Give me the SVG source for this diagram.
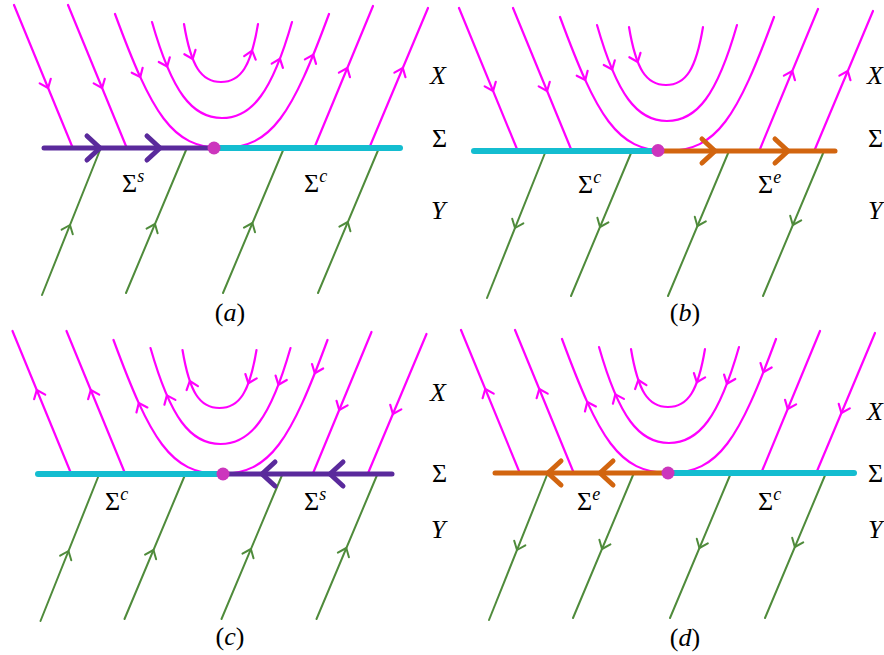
<svg xmlns="http://www.w3.org/2000/svg" width="884" height="655" viewBox="0 0 884 655">
<style>
.mag{fill:none;stroke:#ff00ff;stroke-width:2.2;stroke-linecap:round}
.mch{fill:none;stroke:#ff00ff;stroke-width:2.2;stroke-linecap:round;stroke-linejoin:round}
.grn{fill:none;stroke:#4f8b3b;stroke-width:2;stroke-linecap:round}
.gch{fill:none;stroke:#4f8b3b;stroke-width:2;stroke-linecap:round;stroke-linejoin:round}
.cy{fill:none;stroke:#14bdd0;stroke-width:6;stroke-linecap:round}
.pu{fill:none;stroke:#5a2a9c;stroke-width:5;stroke-linecap:round;stroke-linejoin:round}
.og{fill:none;stroke:#d2650f;stroke-width:5;stroke-linecap:round;stroke-linejoin:round}
.dot{fill:#cc35bd}
text{font-family:"Liberation Serif","Times New Roman",serif;fill:#000}
.lab{font-size:26px}
.sup{font-size:18px;font-style:italic}
.xy{font-size:26px;font-style:italic}
.it{font-style:italic}
.cap{font-size:26px}
</style>
<defs>
<path id="ch" d="M-7.5,-6 L0,0 L-7.5,6"/>
<path id="bch" d="M-13,-12 L0,0 L-13,12"/>
<g id="magCurves" class="mag">
<path d="M14,5 L72.8,148"/>
<path d="M68,5 L126.8,148"/>
<path d="M115,14 C152,114 172,148 222,148 C272,148 292,114 329,14"/>
<path d="M152,22 C172,92 192,118 222,118 C252,118 272,92 292,22"/>
<path d="M184,24 C191,66 201,82 221,82 C241,82 251,66 258,24"/>
<path d="M314.2,148 L373,6"/>
<path d="M369.2,148 L428,8"/>
</g>
<g id="grnLines" class="grn">
<path d="M42,295 L100.8,148"/>
<path d="M126,293 L186.9,148"/>
<path d="M223,293 L284,148"/>
<path d="M318,293 L379,148"/>
</g>
<g id="magArrLeftIn" class="mch">
<use href="#ch" transform="translate(48.1,88) rotate(67.6)"/>
<use href="#ch" transform="translate(102.1,88) rotate(67.6)"/>
<use href="#ch" transform="translate(140.3,77.1) rotate(65.5)"/>
<use href="#ch" transform="translate(167.2,66.5) rotate(67.2)"/>
<use href="#ch" transform="translate(192.7,59) rotate(68.3)"/>
</g>
<g id="magArrRightLinesOut" class="mch">
<use href="#ch" transform="translate(347.3,68) rotate(-67.5)"/>
<use href="#ch" transform="translate(402.8,68) rotate(-67.5)"/>
</g>
<g id="magArrRightCurvesOut" class="mch">
<use href="#ch" transform="translate(252.1,50.7) rotate(-73.2)"/>
<use href="#ch" transform="translate(280,58.8) rotate(-69)"/>
<use href="#ch" transform="translate(313.3,54.7) rotate(-67.8)"/>
</g>
<g id="magArrLeftOut" class="mch">
<use href="#ch" transform="translate(38.3,64) rotate(-112.4)"/>
<use href="#ch" transform="translate(92.3,64) rotate(-112.4)"/>
<use href="#ch" transform="translate(140.3,77.1) rotate(-114.5)"/>
<use href="#ch" transform="translate(168.4,69.4) rotate(-113.6)"/>
<use href="#ch" transform="translate(191.3,55) rotate(-109.1)"/>
</g>
<g id="magArrRightIn" class="mch">
<use href="#ch" transform="translate(249.9,57.3) rotate(110.6)"/>
<use href="#ch" transform="translate(280,58.8) rotate(111)"/>
<use href="#ch" transform="translate(316.3,47.2) rotate(111.7)"/>
<use href="#ch" transform="translate(340.7,84) rotate(112.5)"/>
<use href="#ch" transform="translate(394.4,88) rotate(112.5)"/>
</g>
<g id="grnArrUp" class="gch">
<use href="#ch" transform="translate(70,225) rotate(-68.2)"/>
<use href="#ch" transform="translate(155,224) rotate(-67.2)"/>
<use href="#ch" transform="translate(252.4,223) rotate(-67.2)"/>
<use href="#ch" transform="translate(347.8,222) rotate(-67.2)"/>
</g>
<g id="grnArrDown" class="gch">
<use href="#ch" transform="translate(70,225) rotate(111.8)"/>
<use href="#ch" transform="translate(155,224) rotate(112.8)"/>
<use href="#ch" transform="translate(252.4,223) rotate(112.8)"/>
<use href="#ch" transform="translate(347.8,222) rotate(112.8)"/>
</g>
</defs>

<g id="connectors">
<g id="flow-a">
<use href="#magCurves"/><use href="#grnLines"/>
<use href="#magArrLeftIn"/><use href="#magArrRightLinesOut"/><use href="#magArrRightCurvesOut"/><use href="#grnArrUp"/>
</g>
<g id="flow-b" transform="translate(445,3)">
<use href="#magCurves"/><use href="#grnLines"/>
<use href="#magArrLeftIn"/><use href="#magArrRightLinesOut"/><use href="#grnArrDown"/>
</g>
<g id="flow-c" transform="translate(-1.5,326)">
<use href="#magCurves"/><use href="#grnLines"/>
<use href="#magArrLeftOut"/><use href="#magArrRightIn"/><use href="#grnArrUp"/>
</g>
<g id="flow-d" transform="translate(447,325)">
<use href="#magCurves"/><use href="#grnLines"/>
<use href="#magArrLeftOut"/><use href="#magArrRightIn"/><use href="#grnArrDown"/>
</g>
</g>

<g id="sigma-a">
<path class="pu" d="M44,148 L214,148"/>
<path class="cy" d="M214,148 L400,148"/>
<use class="pu" href="#bch" transform="translate(100,148)"/>
<use class="pu" href="#bch" transform="translate(160,148)"/>
<circle class="dot" cx="214" cy="148" r="6.5"/>
<text class="lab" x="122" y="192">Σ<tspan class="sup" dy="-10">s</tspan></text>
<text class="lab" x="304" y="192">Σ<tspan class="sup" dy="-10">c</tspan></text>
<text class="xy" x="430" y="84">X</text>
<text class="lab" x="432" y="147">Σ</text>
<text class="xy" x="431" y="219">Y</text>
<text class="cap" x="230" y="321" text-anchor="middle">(<tspan class="it">a</tspan>)</text>
</g>

<g id="sigma-b">
<path class="cy" d="M474,151 L658,151"/>
<path class="og" d="M658,151 L835,151"/>
<use class="og" href="#bch" transform="translate(715,151)"/>
<use class="og" href="#bch" transform="translate(788,151)"/>
<circle class="dot" cx="658" cy="150.5" r="6.5"/>
<text class="lab" x="578" y="193">Σ<tspan class="sup" dy="-10">c</tspan></text>
<text class="lab" x="758" y="193">Σ<tspan class="sup" dy="-10">e</tspan></text>
<text class="xy" x="867" y="84">X</text>
<text class="lab" x="868" y="147">Σ</text>
<text class="xy" x="868" y="219">Y</text>
<text class="cap" x="685" y="321" text-anchor="middle">(<tspan class="it">b</tspan>)</text>
</g>

<g id="sigma-c">
<path class="cy" d="M38,474 L223,474"/>
<path class="pu" d="M223,474 L392,474"/>
<use class="pu" href="#bch" transform="translate(262,474) rotate(180)"/>
<use class="pu" href="#bch" transform="translate(330,474) rotate(180)"/>
<circle class="dot" cx="223" cy="474" r="6.5"/>
<text class="lab" x="105" y="510">Σ<tspan class="sup" dy="-10">c</tspan></text>
<text class="lab" x="304" y="510">Σ<tspan class="sup" dy="-10">s</tspan></text>
<text class="xy" x="430" y="401">X</text>
<text class="lab" x="432" y="482">Σ</text>
<text class="xy" x="431" y="538">Y</text>
<text class="cap" x="230" y="645" text-anchor="middle">(<tspan class="it">c</tspan>)</text>
</g>

<g id="sigma-d">
<path class="og" d="M495,473 L668,473"/>
<path class="cy" d="M668,473 L854,473"/>
<use class="og" href="#bch" transform="translate(548,473) rotate(180)"/>
<use class="og" href="#bch" transform="translate(600,473) rotate(180)"/>
<circle class="dot" cx="668" cy="473" r="6.5"/>
<text class="lab" x="577" y="510">Σ<tspan class="sup" dy="-10">e</tspan></text>
<text class="lab" x="758" y="510">Σ<tspan class="sup" dy="-10">c</tspan></text>
<text class="xy" x="867" y="420">X</text>
<text class="lab" x="868" y="482">Σ</text>
<text class="xy" x="868" y="538">Y</text>
<text class="cap" x="685" y="646" text-anchor="middle">(<tspan class="it">d</tspan>)</text>
</g>
</svg>
